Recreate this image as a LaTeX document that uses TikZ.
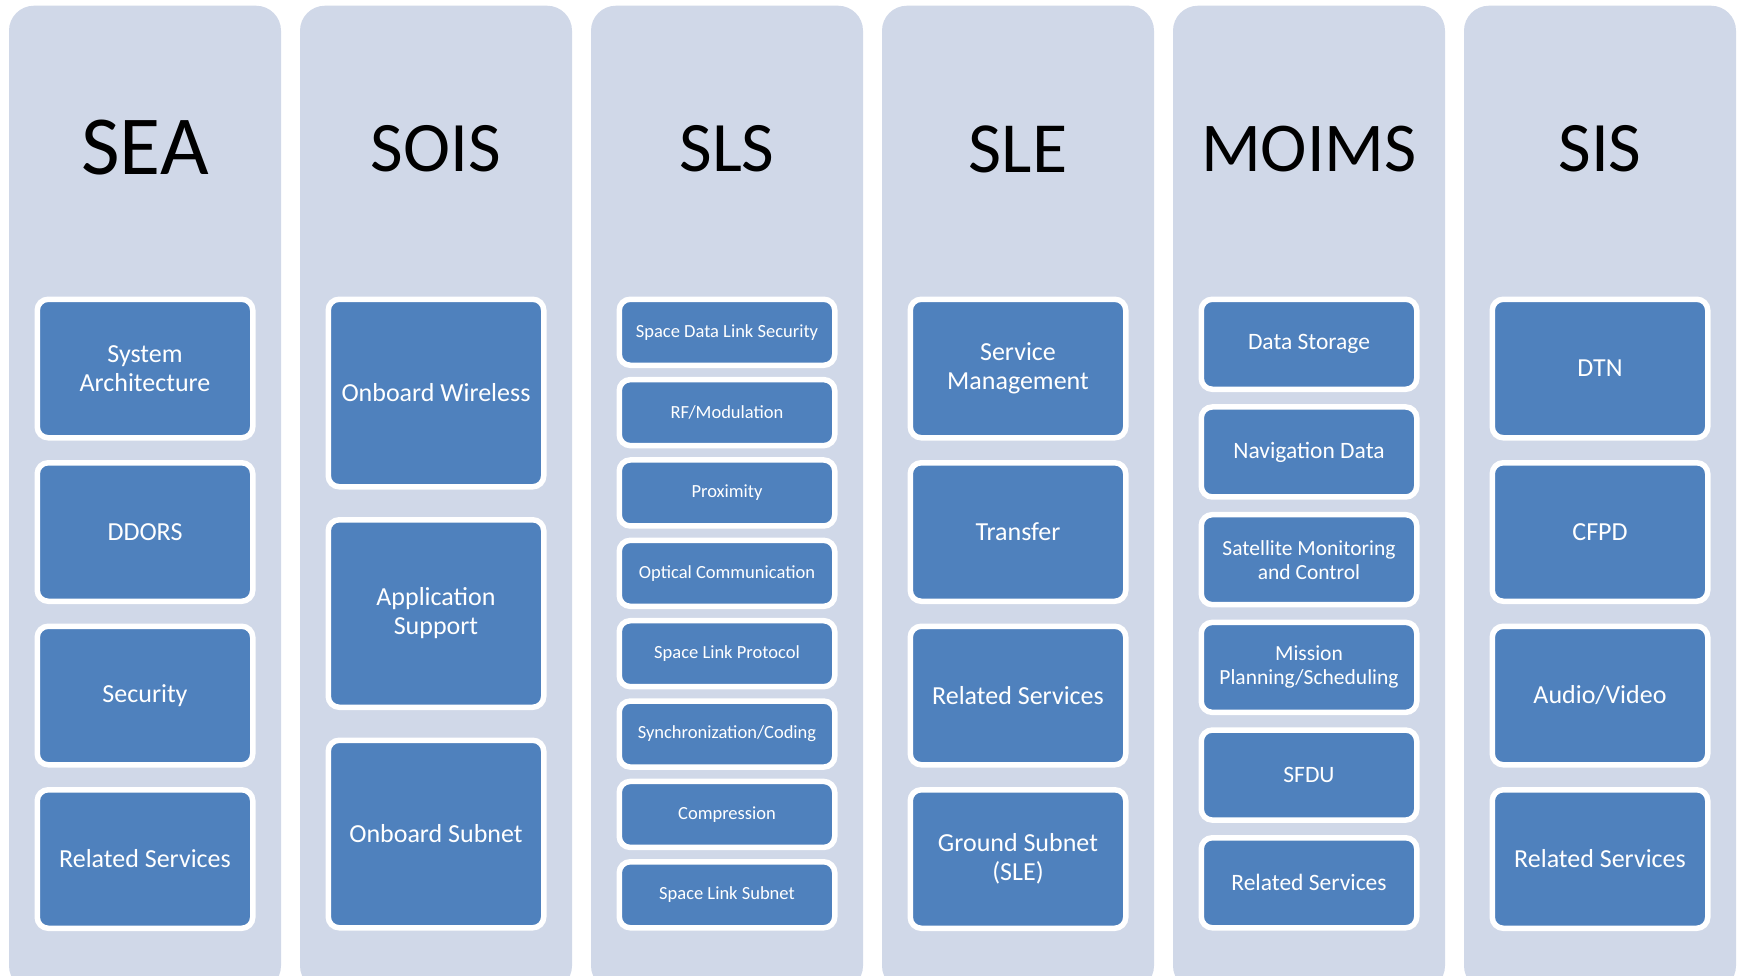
\documentclass[tikz,border=0pt]{standalone}
\usepackage{fontspec}
\setmainfont{Carlito}
\usepackage{tikz}
\usetikzlibrary{positioning}
\definecolor{lanefill}{HTML}{D0D8E8}
\definecolor{itemfill}{HTML}{4F81BD}
\tikzset{
  %% Column background
  lane/.style={
    rectangle, rounded corners=25pt,
    fill=lanefill, draw=none, anchor=north,
    minimum width=272pt, minimum height=985pt,
    inner sep=0pt
  },
  %% Column heading
  lanehead/.style={font=\fontsize{#1}{100}\selectfont, text=black},
  lanehead/.default=71,
  %% Blue item box
  item/.style={
    rectangle, rounded corners=11pt,
    draw=white, fill=itemfill, text=white,
    line width=5.5pt, outer sep=2.75pt,
    align=center, inner sep=2pt,
    minimum width=215.5pt, minimum height=#1
  },
  item/.default=138.5pt,
  %% Text sizes
  txtL/.style={font=\fontsize{26}{29}\selectfont},
  txtM/.style={font=\fontsize{23.5}{25.5}\selectfont},
  txtMs/.style={font=\fontsize{21.5}{24}\selectfont},
  txtS/.style={font=\fontsize{18.5}{21}\selectfont},
}
\begin{document}
\begin{tikzpicture}[x=1pt, y=-1pt]

  \useasboundingbox (0,0) rectangle (1741,975);
  \clip (0,0) rectangle (1741,975);
  \fill[white] (0,0) rectangle (1741,975);

  %% Columns
  \node[lane] (sea)   at (145,5.5)  {};
  \node[lane] (sois)  at (436,5.5)  {};
  \node[lane] (sls)   at (727,5.5)  {};
  \node[lane] (sle)   at (1018,5.5) {};
  \node[lane] (moims) at (1309,5.5) {};
  \node[lane] (sis)   at (1600,5.5) {};

  %% Headings
  \node[lanehead=84] (seaT) at (145,148) {SEA};
  \node[lanehead] (soisT)  at (436,149)  {SOIS};
  \node[lanehead] (slsT)   at (727,149)  {SLS};
  \node[lanehead=72] (sleT) at (1018,149) {SLE};
  \node[lanehead=70] (moimsT) at (1309,149) {MOIMS};
  \node[lanehead] (sisT)   at (1600,149) {SIS};

  %% SEA
  \node[item, txtL] (sysarch) at (145,368.5) {System\\Architecture};
  \node[item, txtL, below=19.5pt of sysarch] (ddors)  {DDORS};
  \node[item, txtL, below=19.5pt of ddors]   (seasec) {Security};
  \node[item, txtL, below=19.5pt of seasec]  (searel) {Related Services};

  %% SOIS
  \node[item=187.5pt, txtL] (wireless) at (436,393) {Onboard Wireless};
  \node[item=187.5pt, txtL, below=27.5pt of wireless] (appsup)
    {Application\\Support};
  \node[item=187.5pt, txtL, below=27.5pt of appsup] (obsubnet)
    {Onboard Subnet};

  %% SLS
  \node[item=66pt, txtS] (sdls) at (727,332.25) {Space Data Link Security};
  \node[item=66pt, txtS, below=8.86pt of sdls]  (rfmod)  {RF/Modulation};
  \node[item=66pt, txtS, below=8.86pt of rfmod] (prox)   {Proximity};
  \node[item=66pt, txtS, below=8.86pt of prox]  (optcom) {Optical Communication};
  \node[item=66pt, txtS, below=8.86pt of optcom] (slp)   {Space Link Protocol};
  \node[item=66pt, txtS, below=8.86pt of slp]   (sync)   {Synchronization/Coding};
  \node[item=66pt, txtS, below=8.86pt of sync]  (compr)  {Compression};
  \node[item=66pt, txtS, below=8.86pt of compr] (slsub)  {Space Link Subnet};

  %% SLE
  \node[item, txtL] (svcmgmt) at (1018,368.5) {Service\\Management};
  \node[item, txtL, below=19.5pt of svcmgmt] (transfer) {Transfer};
  \node[item, txtL, below=19.5pt of transfer] (slerel)  {Related Services};
  \node[item, txtL, below=19.5pt of slerel]   (gndsub)  {Ground Subnet\\(SLE)};

  %% MOIMS
  \node[item=90pt, txtM] (datastor) at (1309,344.25) {Data Storage};
  \node[item=90pt, txtM, below=12.2pt of datastor] (navdata) {Navigation Data};
  \node[item=90pt, txtMs, below=12.2pt of navdata] (satmon)
    {Satellite Monitoring\\and Control};
  \node[item=90pt, txtMs, below=12.2pt of satmon]  (mplan)
    {Mission\\Planning/Scheduling};
  \node[item=90pt, txtM, below=12.2pt of mplan]    (sfdu)  {SFDU};
  \node[item=90pt, txtM, below=12.2pt of sfdu]     (moimsrel) {Related Services};

  %% SIS
  \node[item, txtL] (dtn) at (1600,368.5) {DTN};
  \node[item, txtL, below=19.5pt of dtn]  (cfpd)   {CFPD};
  \node[item, txtL, below=19.5pt of cfpd] (audvid) {Audio/Video};
  \node[item, txtL, below=19.5pt of audvid] (sisrel) {Related Services};

\end{tikzpicture}
\end{document}
